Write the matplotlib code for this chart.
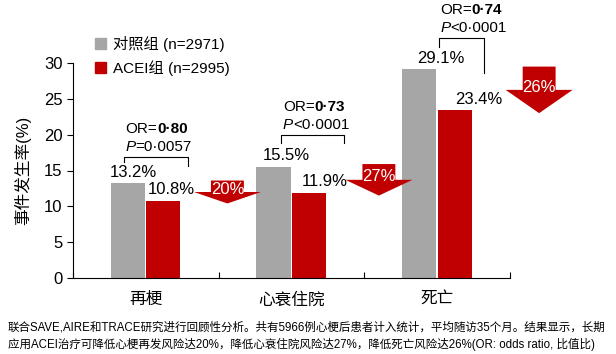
import matplotlib
matplotlib.use("Agg")
import matplotlib.pyplot as plt
from matplotlib.patches import Patch, Polygon

plt.rcParams['font.family'] = ['Liberation Sans', 'Noto Sans CJK SC']

# data
categories = ['再梗', '心衰住院', '死亡']
control = [13.2, 15.5, 29.1]
acei = [10.8, 11.9, 23.4]
reduction = ['20%', '27%', '26%']
or_values = ['0·80', '0·73', '0·74']
p_values = ['=0·0057', '<0·0001', '<0·0001']
legend_labels = ['对照组 (n=2971)', 'ACEI组 (n=2995)']
note = ('联合SAVE,AIRE和TRACE研究进行回顾性分析。共有5966例心梗后患者计入统计，平均随访35个月。结果显示，长期\n'
        '应用ACEI治疗可降低心梗再发风险达20%，降低心衰住院风险达27%，降低死亡风险达26%(OR: odds ratio, 比值比)')

gray = '#A6A6A6'
red = '#C00000'

fig = plt.figure(figsize=(6.16, 3.54), dpi=100)
ax = fig.add_axes([73/616, 76/354, 437/616, 215/354])

w = 0.235
xs = [i + 0.5 for i in range(len(categories))]
for i, x in enumerate(xs):
    ax.bar(x - 0.123, control[i], w, color=gray)
    ax.bar(x + 0.12, acei[i], w, color=red)

# value labels (shifted a bit to the right, like the original)
shift = [0.035, 0.09, 0.145]
for i, x in enumerate(xs):
    ax.text(x - 0.123 + shift[i], control[i] + 0.5, f'{control[i]:.1f}%',
            ha='center', va='bottom', fontsize=12)
    ax.text(x + 0.12 + shift[i] + 0.02, acei[i] + 0.5, f'{acei[i]:.1f}%',
            ha='center', va='bottom', fontsize=12)

# down arrows
arrow_x = [1.06, 2.10, 3.20]
for i in range(3):
    cx = arrow_x[i]
    top, tip = control[i] + 0.4, acei[i] - 0.4
    mid = (top + tip) / 2
    sw, hw = 0.113, 0.23
    pts = [(cx - sw, top), (cx + sw, top), (cx + sw, mid), (cx + hw, mid),
           (cx, tip), (cx - hw, mid), (cx - sw, mid)]
    ax.add_patch(Polygon(pts, closed=True, color=red, clip_on=False, lw=0))
    ax.text(cx, mid + 0.4, reduction[i], color='white', ha='center',
            va='center', fontsize=12, clip_on=False)

# brackets with OR / P
brackets = [(0.35, 0.79, 16.9, 16.2, 15.6), (1.43, 1.86, 20.0, 18.9, 18.9),
            (2.51, 2.82, 33.5, 32.2, 28.6)]
for i, (x0, x1, yt, yl, yr) in enumerate(brackets):
    ax.plot([x0, x0, x1, x1], [yl, yt, yt, yr], color='black', lw=0.8,
            clip_on=False)
    t = ax.text(x0 + 0.01, yt + 3.9, 'OR=', fontsize=11, va='center',
                clip_on=False)
    ax.annotate(or_values[i], xy=(1, 0.5), xycoords=t, va='center',
                fontsize=11, fontweight='bold')
    p = ax.text(x0 + 0.01, yt + 1.4, 'P', fontsize=11, va='center',
                style='italic', clip_on=False)
    ax.annotate(p_values[i], xy=(1, 0.5), xycoords=p, va='center', fontsize=11)

ax.set_xlim(0, 3)
ax.set_ylim(0, 30)
ax.set_yticks(range(0, 31, 5))
ax.set_xticks([0, 1, 2, 3])
ax.set_xticklabels([])
ax.set_xticks(xs, categories, minor=True)
ax.tick_params(axis='x', which='major', direction='in', length=4, width=0.8)
ax.tick_params(axis='x', which='minor', length=0, labelsize=12, pad=10)
ax.tick_params(axis='y', direction='out', length=4, width=0.8, labelsize=12)
for s in ['top', 'right']:
    ax.spines[s].set_visible(False)
ax.spines['left'].set_linewidth(0.8)
ax.spines['bottom'].set_linewidth(0.8)
ax.set_ylabel('事件发生率(%)', fontsize=12, labelpad=9)

handles = [Patch(color=gray), Patch(color=red)]
ax.legend(handles, legend_labels, loc='upper left', bbox_to_anchor=(95/616, 1 - 36/354),
          bbox_transform=fig.transFigure, frameon=False, fontsize=11,
          handlelength=0.75, handleheight=0.75, handletextpad=0.4,
          labelspacing=0.55, borderpad=0, borderaxespad=0)

fig.text(8/616, 1 - 336/354, note, fontsize=8.3, va='center', ha='left',
         linespacing=1.45)

fig.savefig('out.png', dpi=100)
